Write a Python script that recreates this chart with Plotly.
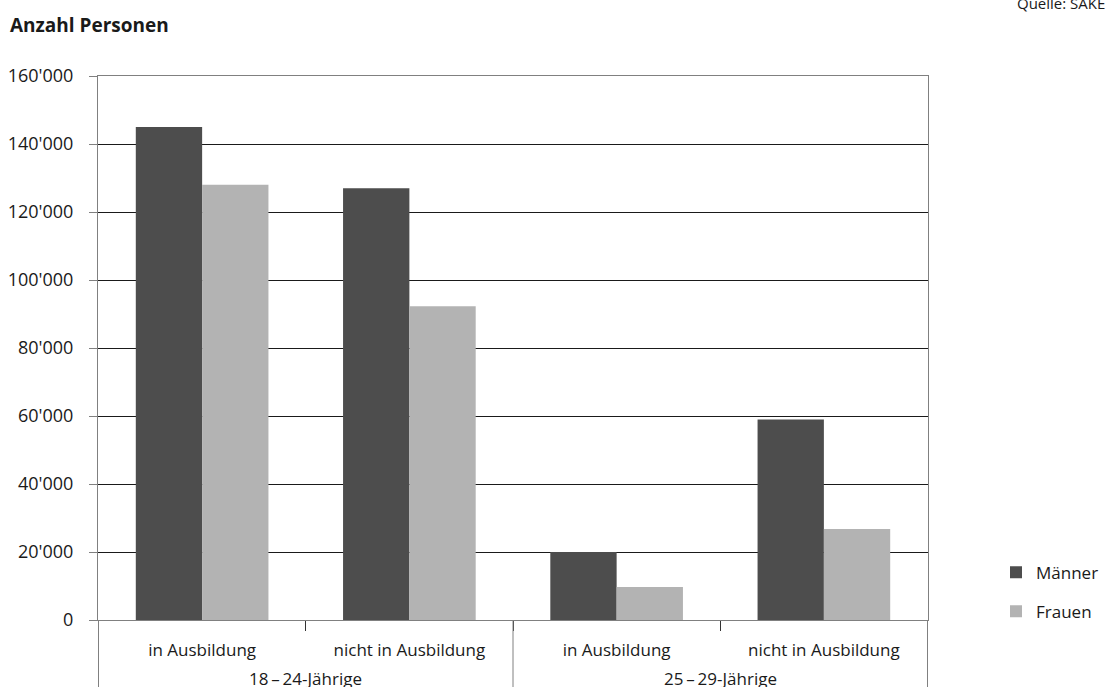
import plotly.graph_objects as go

groups = ["18\u2009–\u200924-Jährige", "18\u2009–\u200924-Jährige", "25\u2009–\u200929-Jährige", "25\u2009–\u200929-Jährige"]
subcats = ["in Ausbildung", "nicht in Ausbildung", "in Ausbildung", "nicht in Ausbildung"]
maenner = [145000, 127000, 20000, 59000]
frauen = [128000, 92300, 9700, 26800]
tickvals = [0, 20000, 40000, 60000, 80000, 100000, 120000, 140000, 160000]
ticktext = ["0", "20'000", "40'000", "60'000", "80'000", "100'000", "120'000", "140'000", "160'000"]

font = "Open Sans, Noto Sans, sans-serif"
L, R, T, B = 98, 177, 76, 67
PW, PH = 1105 - L - R, 687 - T - B

xcats = [g + " | " + s for g, s in zip(groups, subcats)]

fig = go.Figure()
fig.add_trace(go.Bar(x=xcats, y=maenner, name="Männer", legendgroup="m",
                     marker=dict(color="#4d4d4d", line_width=0)))
fig.add_trace(go.Bar(x=xcats, y=frauen, name="Frauen", legendgroup="f",
                     marker=dict(color="#b3b3b3", line_width=0)))

# group dividers (outer edges and between groups) and group labels
unique_groups = list(dict.fromkeys(groups))
shapes = []
annotations = []
start = 0
for g in unique_groups:
    n = groups.count(g)
    shapes.append(dict(type="line", xref="x", yref="paper", x0=start - 0.5, x1=start - 0.5,
                       y0=0, y1=-0.2, line=dict(color="#808080", width=1)))
    annotations.append(dict(text=g, xref="x", yref="paper", x=start + (n - 1) / 2,
                            y=-(665 - 620) / PH, xanchor="center", yanchor="top",
                            showarrow=False, font=dict(size=17)))
    start += n
shapes.append(dict(type="line", xref="x", yref="paper", x0=start - 0.5, x1=start - 0.5,
                   y0=0, y1=-0.2, line=dict(color="#808080", width=1)))

annotations += [
    dict(text="<b>Anzahl Personen</b>", xref="paper", yref="paper", showarrow=False,
         x=(8 - L) / PW, y=1 + (T - 25) / PH, xanchor="left", yanchor="middle",
         font=dict(size=19)),
    dict(text="Quelle: SAKE", xref="paper", yref="paper", showarrow=False,
         x=(1107 - L) / PW, y=1 + (T - 3) / PH, xanchor="right", yanchor="middle",
         font=dict(size=15)),
]

fig.update_layout(
    width=1105, height=687,
    margin=dict(l=L, r=R, t=T, b=B, autoexpand=False),
    plot_bgcolor="white", paper_bgcolor="white",
    barmode="group", bargap=0.36, bargroupgap=0,
    font=dict(family=font, size=17, color="#1a1a1a"),
    showlegend=True,
    legend=dict(x=(1008 - 12 - L) / PW, y=0.12, xanchor="left", yanchor="top", font=dict(size=17),
                itemwidth=30, tracegroupgap=14, bgcolor="rgba(0,0,0,0)"),
    xaxis=dict(type="category", tickmode="array", tickvals=xcats, ticktext=subcats,
               ticks="outside", tickcolor="#333", ticklen=10, tickson="boundaries",
               ticklabelstandoff=15,
               showline=True, linecolor="#808080", mirror=True, showgrid=False,
               automargin=False, tickfont=dict(size=17)),
    yaxis=dict(range=[0, 160000], tickvals=tickvals, ticktext=ticktext,
               showgrid=True, gridcolor="#1a1a1a", gridwidth=1,
               ticks="outside", ticklen=8, tickcolor="#808080", ticklabelstandoff=12,
               showline=True, linecolor="#808080", mirror=True,
               zeroline=False, automargin=False, tickfont=dict(size=18)),
    shapes=shapes,
    annotations=annotations,
)

fig.write_html("out.html", config={"displayModeBar": False},
               post_script="document.body.style.margin='0';")
